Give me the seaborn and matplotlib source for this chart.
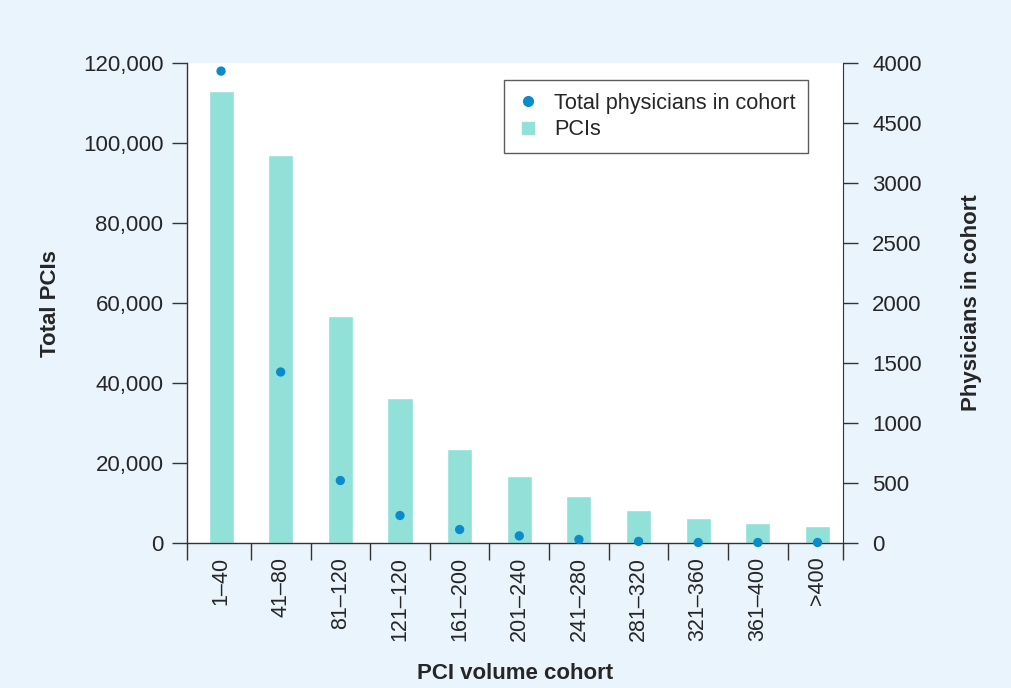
import matplotlib
matplotlib.use("Agg")
import matplotlib.pyplot as plt
from matplotlib.lines import Line2D
import numpy as np
import seaborn as sns

cohorts = ["1–40", "41–80", "81–120", "121–120", "161–200", "201–240",
           "241–280", "281–320", "321–360", "361–400", ">400"]
pcis = [113000, 97000, 56750, 36250, 23500, 16750, 11750, 8250, 6250, 5000, 4250]
physicians = [3935, 1425, 520, 228, 111, 58, 28, 12, 3, 3, 3]
right_ticks = [0, 500, 1000, 1500, 2000, 2500, 3000, 3500, 4000]
right_labels = ["0", "500", "1000", "1500", "2000", "2500", "3000", "4500", "4000"]

bar_color = "#92E1D9"
dot_color = "#0A8BCB"
bg = "#EAF4FC"

sns.set_style("ticks")
plt.rcParams["font.family"] = ["Liberation Sans", "DejaVu Sans"]
fs = 16

fig = plt.figure(figsize=(10.11, 6.88), dpi=100, facecolor=bg)
ax = fig.add_axes([0.185, 0.211, 0.649, 0.697])
ax.set_facecolor("white")

n = len(cohorts)
sns.barplot(x=cohorts, y=pcis, color=bar_color, width=0.42, saturation=1, ax=ax, zorder=2)
ax.set_ylim(0, 120000)
ax.set_xlim(-0.57, n - 0.57)
ax.set_yticks(np.arange(0, 120001, 20000))
ax.set_yticklabels([f"{v:,}" for v in range(0, 120001, 20000)], fontsize=fs)
ax.set_xticks(range(n))
ax.set_xticklabels(cohorts, rotation=90, fontsize=15.5)
ax.set_xticks([-0.57] + list(np.arange(0.5, n - 1)) + [n - 0.57], minor=True)
ax.tick_params(axis="x", which="major", length=0, pad=10)
ax.tick_params(axis="x", which="minor", length=12, width=1, color="#333333", direction="out")
ax.tick_params(axis="y", length=11, width=1, color="#333333", pad=6)
ax.set_xlabel("PCI volume cohort", fontsize=fs, fontweight="bold", labelpad=16)
ax.set_ylabel("Total PCIs", fontsize=fs, fontweight="bold", labelpad=16)
for s in ["left", "bottom"]:
    ax.spines[s].set_color("#333333")
    ax.spines[s].set_linewidth(1)
ax.spines["top"].set_visible(False)
ax.spines["right"].set_visible(False)

ax2 = ax.twinx()
sns.scatterplot(x=np.arange(n), y=physicians, color=dot_color, s=45,
                edgecolor="none", ax=ax2, clip_on=False, zorder=5)
ax2.set_ylim(0, 4000)
ax2.set_yticks(right_ticks)
ax2.set_yticklabels(right_labels, fontsize=fs)
ax2.tick_params(axis="y", length=11, width=1, color="#333333", pad=10)
ax2.set_ylabel("Physicians in cohort", fontsize=fs, fontweight="bold", labelpad=28)
ax2.spines["right"].set_color("#333333")
ax2.spines["top"].set_visible(False)
ax2.spines["left"].set_visible(False)
ax2.spines["bottom"].set_visible(False)

handles = [
    Line2D([], [], marker="o", linestyle="none", color=dot_color, markersize=7),
    Line2D([], [], marker="s", linestyle="none", color=bar_color, markersize=9),
]
leg = ax2.legend(handles, ["Total physicians in cohort", "PCIs"], loc="upper left",
                 bbox_to_anchor=(0.483, 0.965), fontsize=15.6, frameon=True, fancybox=False,
                 handlelength=1.0, handletextpad=0.7, borderpad=0.6, labelspacing=0.25,
                 borderaxespad=0)
leg.get_frame().set_edgecolor("#333333")
leg.get_frame().set_linewidth(1)

fig.savefig("out.png", dpi=100, facecolor=bg)
